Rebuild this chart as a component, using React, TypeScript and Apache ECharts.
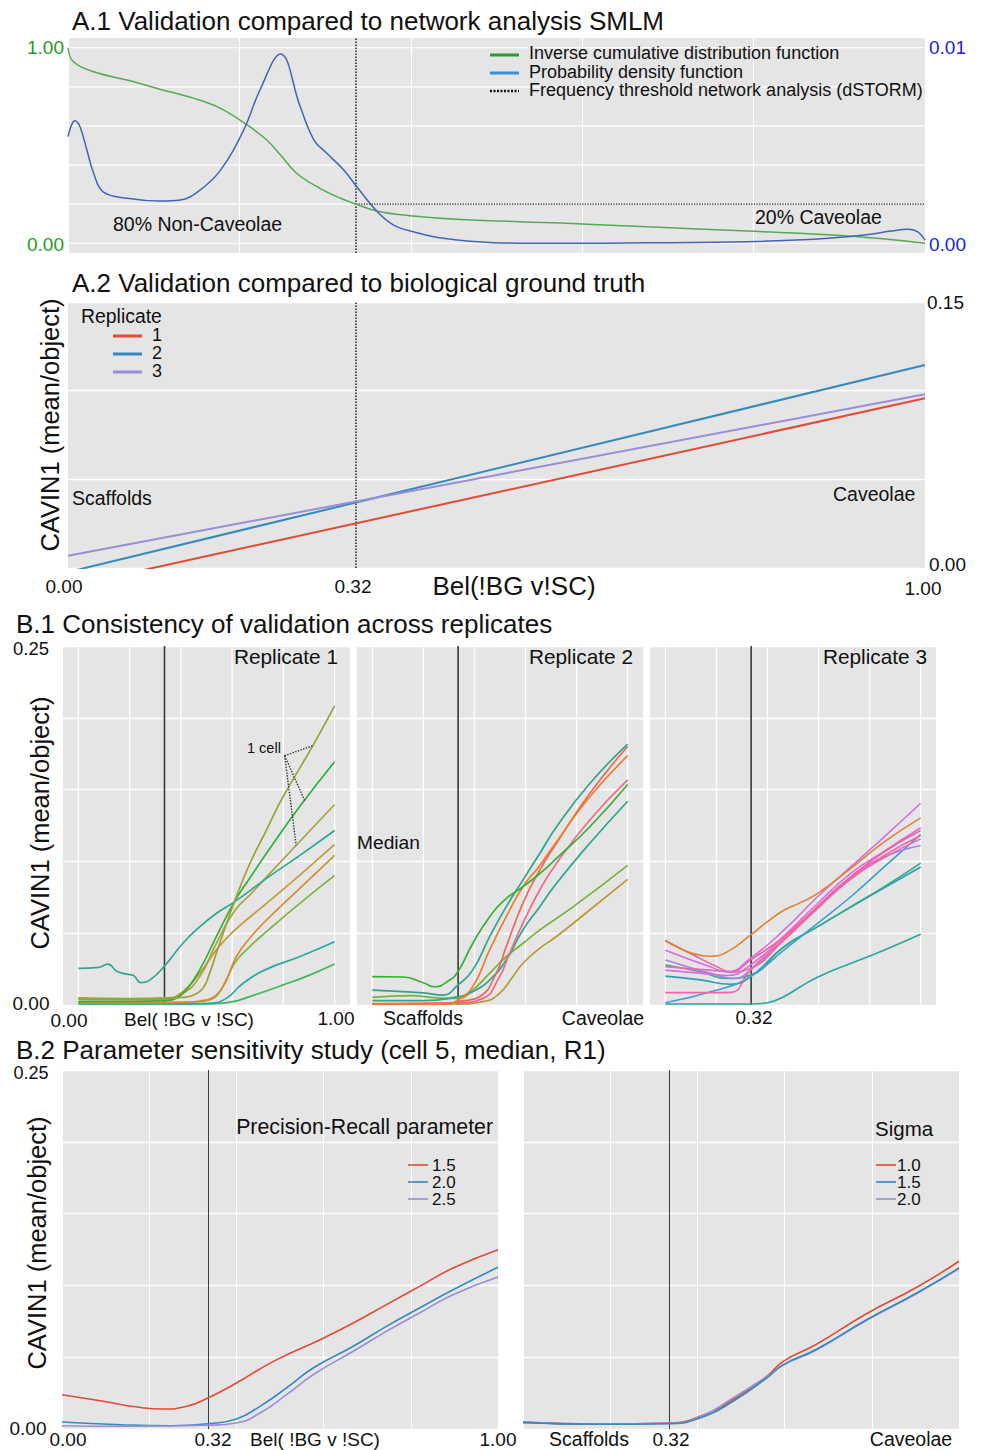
import React, { useEffect, useRef } from "react";
import * as echarts from "echarts";

const FONT = '"Liberation Sans", Arial, Helvetica, sans-serif';

// ---------- shared ----------
const THRESHOLD_POS = 0.336;
const THRESHOLD_LABEL = "0.32";

// ---------- A.1 ----------
const icdfX = [0, 0.006, 0.03, 0.069, 0.108, 0.147, 0.178, 0.209, 0.232, 0.248, 0.267, 0.294, 0.318, 0.336, 0.36, 0.399, 0.458, 0.575, 0.676, 0.793, 0.91, 1.0];
const icdfY = [1.0, 0.93, 0.877, 0.835, 0.787, 0.741, 0.69, 0.605, 0.528, 0.451, 0.357, 0.281, 0.23, 0.2, 0.165, 0.141, 0.122, 0.103, 0.084, 0.062, 0.037, 0.0];
const pdfX = [0, 0.008, 0.014, 0.022, 0.03, 0.041, 0.069, 0.107, 0.131, 0.154, 0.178, 0.205, 0.224, 0.248, 0.271, 0.287, 0.302, 0.322, 0.337, 0.361, 0.38, 0.403, 0.438, 0.497, 0.575, 0.676, 0.793, 0.87, 0.929, 0.96, 0.98, 0.991, 1.0];
const pdfY = [0.00545, 0.00627, 0.00596, 0.00477, 0.00357, 0.00263, 0.0023, 0.00216, 0.00221, 0.00272, 0.00374, 0.00579, 0.00784, 0.00968, 0.00698, 0.00528, 0.0046, 0.00374, 0.00289, 0.00161, 0.00093, 0.00059, 0.00025, 0.00003, 0, 0.00002, 0.00008, 0.0002, 0.00042, 0.00062, 0.00071, 0.00059, 0.00016];
const freqThreshold = 0.2;
const a1GridY = [0, 0.2, 0.4, 0.6, 0.8, 1];
const a1LeftTicks = ["1.00", "0.00"];
const a1RightTicks = ["0.01", "0.00"];
const a1Legend = ["Inverse cumulative distribution function", "Probability density function", "Frequency threshold network analysis (dSTORM)"];

// ---------- A.2 ----------
const a2X = [0, 1];
const a2Rep1 = [-0.0105, 0.0957];
const a2Rep2 = [-0.0023, 0.1145];
const a2Rep3 = [0.0069, 0.098];
const a2Legend = ["1", "2", "3"];
const a2RightTicks = ["0.15", "0.00"];
const a2XTicks = ["0.00", THRESHOLD_LABEL, "1.00"];

// ---------- B.1 ----------
const b1GridX = [0, 0.2, 0.4, 0.6, 0.8, 1];
const rep1a = [[0, 0.0045], [0.2, 0.004], [0.336, 0.0045], [0.42, 0.0055], [0.45, 0.007], [0.486, 0.0116], [0.512, 0.022], [0.538, 0.0359], [0.575, 0.055], [0.609, 0.072], [0.668, 0.098], [0.733, 0.1215], [0.798, 0.1447], [0.915, 0.1806], [1, 0.2083]];
const rep1b = [[0, 0.0025], [0.2, 0.0025], [0.336, 0.003], [0.381, 0.0046], [0.42, 0.0104], [0.473, 0.0243], [0.538, 0.0475], [0.609, 0.072], [0.668, 0.0881], [0.733, 0.1053], [0.863, 0.138], [1, 0.1694]];
const rep1c = [[0, 0.005], [0.2, 0.0045], [0.336, 0.005], [0.407, 0.0081], [0.473, 0.0197], [0.538, 0.0428], [0.609, 0.0655], [0.668, 0.0764], [0.733, 0.0889], [0.863, 0.1137], [1, 0.1396]];
const rep1d = [[0, 0.0255], [0.08, 0.0262], [0.115, 0.0285], [0.15, 0.0235], [0.19, 0.0215], [0.215, 0.0205], [0.245, 0.0155], [0.28, 0.0175], [0.336, 0.0271], [0.407, 0.0428], [0.473, 0.0544], [0.538, 0.0637], [0.609, 0.0718], [0.733, 0.088], [0.863, 0.104], [1, 0.1215]];
const rep1e = [[0, 0.004], [0.2, 0.0038], [0.336, 0.004], [0.407, 0.0093], [0.473, 0.022], [0.538, 0.0382], [0.603, 0.0509], [0.733, 0.0706], [0.863, 0.0903], [1, 0.1118]];
const rep1f = [[0, 0.002], [0.3, 0.0018], [0.42, 0.002], [0.473, 0.0028], [0.538, 0.0069], [0.577, 0.0174], [0.616, 0.0336], [0.668, 0.0463], [0.733, 0.059], [0.863, 0.081], [1, 0.1042]];
const rep1g = [[0, 0.0015], [0.3, 0.0015], [0.45, 0.002], [0.512, 0.0035], [0.564, 0.0127], [0.609, 0.0289], [0.668, 0.0405], [0.733, 0.0509], [0.863, 0.0706], [1, 0.0903]];
const rep1h = [[0, 0.001], [0.4, 0.0008], [0.512, 0.0012], [0.577, 0.0046], [0.642, 0.015], [0.733, 0.0248], [0.863, 0.0336], [1, 0.044]];
const rep1i = [[0, 0.0008], [0.45, 0.0007], [0.538, 0.001], [0.603, 0.0023], [0.668, 0.0058], [0.798, 0.0139], [0.902, 0.0208], [1, 0.0285]];
const rep1Lines = [rep1i, rep1h, rep1g, rep1f, rep1e, rep1c, rep1d, rep1b, rep1a];
const rep1Colors = ["#3fb55c", "#29a9a2", "#7db441", "#d98c2e", "#c59b37", "#aaa23a", "#2fa893", "#2db33a", "#9ea033"];

const rep2a = [[0, 0.0104], [0.1, 0.0095], [0.2, 0.0085], [0.276, 0.0069], [0.335, 0.0139], [0.393, 0.0243], [0.459, 0.0475], [0.524, 0.0683], [0.589, 0.0868], [0.655, 0.1053], [0.72, 0.1238], [0.85, 0.1539], [1, 0.1817]];
const rep2b = [[0, 0.0008], [0.3, 0.0008], [0.335, 0.0023], [0.42, 0.0058], [0.485, 0.022], [0.524, 0.0405], [0.589, 0.0706], [0.655, 0.0938], [0.72, 0.1123], [0.85, 0.147], [1, 0.18]];
const rep2c = [[0, 0.001], [0.3, 0.0012], [0.335, 0.0035], [0.393, 0.0127], [0.459, 0.0382], [0.524, 0.0613], [0.589, 0.0822], [0.655, 0.097], [0.72, 0.1134], [0.85, 0.1447], [1, 0.1736]];
const rep2d = [[0, 0.0006], [0.335, 0.0016], [0.433, 0.0046], [0.498, 0.0197], [0.537, 0.0359], [0.589, 0.0567], [0.655, 0.0799], [0.72, 0.0984], [0.85, 0.1285], [1, 0.1567]];
const rep2e = [[0, 0.0197], [0.12, 0.0195], [0.2, 0.0155], [0.243, 0.0127], [0.3, 0.017], [0.335, 0.0231], [0.393, 0.0428], [0.459, 0.0613], [0.524, 0.0741], [0.589, 0.0822], [0.655, 0.0914], [0.72, 0.1019], [0.85, 0.1238], [1, 0.1535]];
const rep2f = [[0, 0.003], [0.2, 0.003], [0.335, 0.0058], [0.393, 0.0093], [0.459, 0.0174], [0.524, 0.0313], [0.589, 0.0521], [0.655, 0.0683], [0.72, 0.0845], [0.85, 0.1123], [1, 0.1419]];
const rep2g = [[0, 0.0053], [0.15, 0.0065], [0.25, 0.005], [0.335, 0.0046], [0.393, 0.0104], [0.459, 0.022], [0.524, 0.0336], [0.589, 0.0428], [0.655, 0.0521], [0.786, 0.0683], [1, 0.0972]];
const rep2h = [[0, 0.0007], [0.335, 0.0007], [0.433, 0.0023], [0.498, 0.0081], [0.55, 0.0197], [0.589, 0.0289], [0.655, 0.0394], [0.72, 0.0475], [0.85, 0.066], [1, 0.0875]];
const rep2Lines = [rep2h, rep2g, rep2f, rep2d, rep2b, rep2c, rep2a, rep2e];
const rep2Colors = ["#bb9838", "#7cb03c", "#2aa890", "#f06a88", "#f2655c", "#f07c2c", "#2ea58c", "#36b036"];

const rep3a = [[0, 0.0451], [0.176, 0.034], [0.242, 0.037], [0.333, 0.0486], [0.399, 0.0579], [0.464, 0.066], [0.529, 0.0713], [0.595, 0.0775], [0.725, 0.0949], [0.856, 0.1134], [1, 0.1303]];
const rep3b = [[0, 0.0447], [0.098, 0.0359], [0.203, 0.0266], [0.255, 0.0231], [0.333, 0.0313], [0.464, 0.0475], [0.595, 0.0683], [0.725, 0.0891], [0.856, 0.1065], [1, 0.1215]];
const rep3c = [[0, 0.0382], [0.176, 0.0266], [0.242, 0.0231], [0.333, 0.0324], [0.464, 0.0521], [0.595, 0.0752], [0.725, 0.096], [0.856, 0.1169], [1, 0.1405]];
const rep3d = [[0, 0.0313], [0.203, 0.0208], [0.268, 0.0185], [0.333, 0.0243], [0.464, 0.0451], [0.595, 0.0683], [0.725, 0.0891], [0.856, 0.103], [1, 0.1111]];
const rep3e = [[0, 0.0278], [0.137, 0.0231], [0.242, 0.0185], [0.333, 0.0208], [0.464, 0.0405], [0.595, 0.0544], [0.725, 0.0683], [0.856, 0.0822], [1, 0.0988]];
const rep3f = [[0, 0.0266], [0.176, 0.0243], [0.255, 0.0231], [0.333, 0.0255], [0.464, 0.0451], [0.595, 0.067], [0.725, 0.0875], [0.856, 0.1025], [1, 0.1157]];
const rep3g = [[0, 0.0243], [0.176, 0.0215], [0.242, 0.0205], [0.333, 0.0278], [0.464, 0.048], [0.595, 0.0705], [0.725, 0.0915], [0.856, 0.107], [1, 0.1234]];
const rep3h = [[0, 0.0201], [0.137, 0.0175], [0.255, 0.0145], [0.333, 0.0197], [0.464, 0.0405], [0.595, 0.0544], [0.725, 0.068], [0.856, 0.0815], [1, 0.0961]];
const rep3i = [[0, 0.0086], [0.15, 0.0086], [0.255, 0.0088], [0.333, 0.0243], [0.464, 0.046], [0.595, 0.0675], [0.725, 0.088], [0.856, 0.104], [1, 0.118]];
const rep3j = [[0, 0.0016], [0.203, 0.0104], [0.333, 0.0197], [0.464, 0.0382], [0.595, 0.0567], [0.725, 0.0752], [0.856, 0.096], [1, 0.1188]];
const rep3k = [[0, 0.0007], [0.333, 0.0007], [0.4, 0.0016], [0.464, 0.0058], [0.529, 0.0127], [0.6, 0.0197], [0.725, 0.0289], [0.856, 0.0382], [1, 0.0493]];
const rep3Lines = [rep3k, rep3h, rep3e, rep3j, rep3d, rep3i, rep3f, rep3g, rep3b, rep3c, rep3a];
const rep3Colors = ["#2aa69c", "#2a9fb5", "#35a98c", "#3a9ed8", "#9f86ee", "#f264a5", "#f067b2", "#e46ad8", "#f0609e", "#d66ce4", "#dc8431"];

const oneCellVertex = [0.805, 0.1736];
const oneCellTargets = [[0.915, 0.1806], [0.883, 0.1424], [0.85, 0.1111]];

// ---------- B.2 ----------
const pr15 = [[0, 0.0239], [0.095, 0.0193], [0.172, 0.0153], [0.233, 0.0139], [0.286, 0.0158], [0.337, 0.022], [0.4, 0.032], [0.485, 0.0471], [0.592, 0.0622], [0.668, 0.0738], [0.744, 0.0866], [0.82, 0.0993], [0.897, 0.1121], [1, 0.1249]];
const pr20 = [[0, 0.0049], [0.134, 0.003], [0.248, 0.0023], [0.337, 0.0037], [0.4, 0.007], [0.454, 0.0158], [0.515, 0.0286], [0.576, 0.0425], [0.668, 0.0576], [0.744, 0.0715], [0.82, 0.0843], [0.897, 0.097], [1, 0.1126]];
const pr25 = [[0, 0.0023], [0.134, 0.0019], [0.337, 0.0026], [0.4, 0.0042], [0.454, 0.0111], [0.515, 0.0239], [0.576, 0.0378], [0.668, 0.0541], [0.744, 0.068], [0.82, 0.0808], [0.897, 0.0935], [1, 0.1058]];
const sig10 = [[0, 0.0046], [0.177, 0.0035], [0.336, 0.0042], [0.406, 0.0088], [0.482, 0.0204], [0.559, 0.0367], [0.597, 0.0471], [0.673, 0.059], [0.788, 0.0803], [0.902, 0.0985], [1, 0.1168]];
const sig15 = [[0, 0.0046], [0.177, 0.0033], [0.336, 0.0037], [0.406, 0.0077], [0.482, 0.0193], [0.559, 0.0355], [0.597, 0.0448], [0.673, 0.0555], [0.788, 0.0761], [0.902, 0.0945], [1, 0.1121]];
const sig20 = [[0, 0.0048], [0.177, 0.0035], [0.336, 0.004], [0.406, 0.0085], [0.482, 0.0216], [0.559, 0.0365], [0.597, 0.0445], [0.673, 0.055], [0.788, 0.0757], [0.902, 0.0942], [1, 0.1117]];
const prLegend = ["1.5", "2.0", "2.5"];
const sigLegend = ["1.0", "1.5", "2.0"];
const ggColors = ["#e24a33", "#348abd", "#988ed5"];

const zip = (xs: number[], ys: number[]) => xs.map((x, i) => [x, ys[i]]);

const line = (data: any, xi: number, yi: number, color: string, width: number, extra: any = {}) => ({
  type: "line",
  xAxisIndex: xi,
  yAxisIndex: yi,
  data,
  symbol: "none",
  showSymbol: false,
  silent: true,
  clip: true,
  z: extra.z ?? 3,
  smooth: extra.smooth ?? false,
  lineStyle: { color, width, type: extra.type ?? "solid", cap: "butt" },
});

const txt = (x: number, y: number, text: string, size: number, o: any = {}) => ({
  type: "text",
  x,
  y,
  z: 20,
  silent: true,
  rotation: o.rotation ?? 0,
  style: {
    text,
    fontSize: size,
    fontFamily: FONT,
    fill: o.color ?? "#111",
    textAlign: o.align ?? "left",
    textVerticalAlign: "middle",
    align: o.align ?? "left",
    verticalAlign: "middle",
  },
});

const seg = (x1: number, y1: number, x2: number, y2: number, color: string, w: number, dash?: number[]) => ({
  type: "line",
  z: 20,
  silent: true,
  shape: { x1, y1, x2, y2 },
  style: { stroke: color, lineWidth: w, lineDash: dash },
});

const hiddenAxis = (gridIndex: number, min: number, max: number, extra: any = {}) => ({
  type: "value",
  gridIndex,
  min,
  max,
  axisLine: { show: false },
  axisTick: { show: false },
  axisLabel: { show: false },
  splitLine: { show: false },
  ...extra,
});

const whiteSplit = (w: number) => ({ show: true, lineStyle: { color: "#ffffff", width: w } });

function buildOption() {
  const grid = (left: number, top: number, width: number, height: number) => ({
    left, top, width, height, show: true, backgroundColor: "#e5e5e5", borderWidth: 0, containLabel: false,
  });

  const grids = [
    grid(68, 38, 857, 215),
    grid(68, 302, 857, 266),
    grid(63, 646, 287, 359),
    grid(357, 646, 286, 359),
    grid(650, 646, 286, 359),
    grid(62, 1070, 436, 359),
    grid(523, 1070, 436, 359),
  ];

  const xAxis = [
    hiddenAxis(0, 0, 1, { interval: 0.2, splitLine: whiteSplit(1.2) }),
    hiddenAxis(1, 0, 1),
    hiddenAxis(2, -0.06, 1.06),
    hiddenAxis(3, -0.06, 1.06),
    hiddenAxis(4, -0.06, 1.06),
    hiddenAxis(5, 0, 1, { interval: 0.2, splitLine: whiteSplit(1) }),
    hiddenAxis(6, 0, 1, { interval: 0.2, splitLine: whiteSplit(1) }),
  ];
  const yAxis = [
    hiddenAxis(0, -0.05, 1.05),
    hiddenAxis(0, -0.0005, 0.0105, { position: "right" }),
    hiddenAxis(1, 0, 0.15, { interval: 0.05, position: "right", splitLine: whiteSplit(1.3) }),
    hiddenAxis(2, 0, 0.25, { interval: 0.05, splitLine: whiteSplit(1.4) }),
    hiddenAxis(3, 0, 0.25, { interval: 0.05, splitLine: whiteSplit(1.4) }),
    hiddenAxis(4, 0, 0.25, { interval: 0.05, splitLine: whiteSplit(1.4) }),
    hiddenAxis(5, 0, 0.25, { interval: 0.05, splitLine: whiteSplit(1.4) }),
    hiddenAxis(6, 0, 0.25, { interval: 0.05, splitLine: whiteSplit(1.4) }),
  ];

  const series: any[] = [];
  // A.1 gridlines + curves
  a1GridY.forEach((v) => series.push(line([[0, v], [1, v]], 0, 0, "#ffffff", 1.2, { z: 1 })));
  series.push(line([[THRESHOLD_POS, -0.05], [THRESHOLD_POS, 1.05]], 0, 0, "#222", 1.5, { z: 2, type: [1.5, 1.5] }));
  series.push(line([[THRESHOLD_POS, freqThreshold], [1, freqThreshold]], 0, 0, "#222", 1.3, { z: 2, type: [1.3, 1.3] }));
  series.push(line(zip(icdfX, icdfY), 0, 0, "#55a955", 1.5, { smooth: 0.4 }));
  series.push(line(zip(pdfX, pdfY), 0, 1, "#4465b5", 1.5, { smooth: 0.4 }));

  // A.2
  series.push(line([[THRESHOLD_POS, 0], [THRESHOLD_POS, 0.15]], 1, 2, "#222", 1.5, { z: 2, type: [1.5, 1.5] }));
  series.push(line(zip(a2X, a2Rep1), 1, 2, ggColors[0], 2));
  series.push(line(zip(a2X, a2Rep2), 1, 2, ggColors[1], 2));
  series.push(line(zip(a2X, a2Rep3), 1, 2, ggColors[2], 2));

  // B.1
  [2, 3, 4].forEach((g) => {
    b1GridX.forEach((v) => series.push(line([[v, 0], [v, 0.25]], g, g + 1, "#ffffff", 1.3, { z: 1 })));
    series.push(line([[THRESHOLD_POS, 0], [THRESHOLD_POS, 0.25]], g, g + 1, "#3a3a3a", 1.6, { z: 2 }));
  });
  rep1Lines.forEach((d, i) => series.push(line(d, 2, 3, rep1Colors[i], 1.7, { smooth: 0.5 })));
  rep2Lines.forEach((d, i) => series.push(line(d, 3, 4, rep2Colors[i], 1.7, { smooth: 0.5 })));
  rep3Lines.forEach((d, i) => series.push(line(d, 4, 5, rep3Colors[i], 1.6, { smooth: 0.5 })));
  oneCellTargets.forEach((t) => series.push(line([oneCellVertex, t], 2, 3, "#333", 1.4, { z: 5, type: [1.4, 1.4] })));

  // B.2
  series.push(line([[THRESHOLD_POS, 0], [THRESHOLD_POS, 0.25]], 5, 6, "#3a3a3a", 1, { z: 2 }));
  series.push(line([[THRESHOLD_POS, 0], [THRESHOLD_POS, 0.25]], 6, 7, "#3a3a3a", 1, { z: 2 }));
  [pr15, pr20, pr25].forEach((d, i) => series.push(line(d, 5, 6, ggColors[i], 1.6, { smooth: 0.5 })));
  [sig10, sig20, sig15].forEach((d, i) => series.push(line(d, 6, 7, [ggColors[0], ggColors[2], ggColors[1]][i], 1.6, { smooth: 0.5 })));

  const yTitle = "CAVIN1 (mean/object)";
  const bel = "Bel( !BG v !SC)";
  const graphics: any[] = [
    // titles
    txt(72, 21, "A.1 Validation compared to network analysis SMLM", 26),
    txt(72, 283, "A.2 Validation compared to biological ground truth", 26),
    txt(16, 623.5, "B.1 Consistency of validation across replicates", 26),
    txt(16, 1050, "B.2 Parameter sensitivity study (cell 5, median, R1)", 26),

    // A.1 ticks
    txt(64, 47, a1LeftTicks[0], 19, { align: "right", color: "#1f9a1f" }),
    txt(64, 244, a1LeftTicks[1], 19, { align: "right", color: "#1f9a1f" }),
    txt(929, 47, a1RightTicks[0], 19, { color: "#2020ee" }),
    txt(929, 244, a1RightTicks[1], 19, { color: "#2020ee" }),
    txt(113, 224, "80% Non-Caveolae", 19.5),
    txt(755, 217, "20% Caveolae", 19.5),
    seg(490, 55, 519, 55, "#2a9a2a", 3),
    seg(490, 73, 519, 73, "#3d8fd3", 3),
    seg(490, 91, 519, 91, "#111", 2.5, [2, 1.5]),
    txt(529, 53, a1Legend[0], 18),
    txt(529, 71.5, a1Legend[1], 18),
    txt(529, 90, a1Legend[2], 18),

    // A.2
    txt(81, 316, "Replicate", 19.4),
    seg(113, 336, 142, 336, ggColors[0], 3),
    seg(113, 354, 142, 354, ggColors[1], 3),
    seg(113, 372, 142, 372, ggColors[2], 3),
    txt(152, 335, a2Legend[0], 18),
    txt(152, 353, a2Legend[1], 18),
    txt(152, 371, a2Legend[2], 18),
    txt(72, 498, "Scaffolds", 19.5),
    txt(833, 494, "Caveolae", 19.5),
    txt(927, 302, a2RightTicks[0], 19),
    txt(929, 564, a2RightTicks[1], 19),
    txt(64, 586, a2XTicks[0], 19, { align: "center" }),
    txt(353, 586, a2XTicks[1], 19, { align: "center" }),
    txt(923, 588, a2XTicks[2], 19, { align: "center" }),
    txt(514, 586, "Bel(!BG v!SC)", 26, { align: "center" }),
    txt(50, 425, yTitle, 25.5, { align: "center", rotation: Math.PI / 2 }),

    // B.1
    txt(31, 648.5, "0.25", 18.5, { align: "center" }),
    txt(31, 1003, "0.00", 19, { align: "center" }),
    txt(69, 1020, "0.00", 19, { align: "center" }),
    txt(189, 1019, bel, 19, { align: "center" }),
    txt(336, 1018, "1.00", 19, { align: "center" }),
    txt(423, 1018, "Scaffolds", 19.5, { align: "center" }),
    txt(603, 1018, "Caveolae", 19.5, { align: "center" }),
    txt(754, 1017, THRESHOLD_LABEL, 19, { align: "center" }),
    txt(338, 656, "Replicate 1", 20.8, { align: "right" }),
    txt(633, 656, "Replicate 2", 20.8, { align: "right" }),
    txt(927, 656, "Replicate 3", 20.8, { align: "right" }),
    txt(357, 842, "Median", 19.2),
    txt(247, 748, "1 cell", 14.5),
    txt(40, 823, yTitle, 25.5, { align: "center", rotation: Math.PI / 2 }),

    // B.2
    txt(31, 1073, "0.25", 18, { align: "center" }),
    txt(28, 1428, "0.00", 19, { align: "center" }),
    txt(68, 1439, "0.00", 19, { align: "center" }),
    txt(213, 1439, THRESHOLD_LABEL, 19, { align: "center" }),
    txt(315, 1439, bel, 19, { align: "center" }),
    txt(498, 1439, "1.00", 19, { align: "center" }),
    txt(589, 1439, "Scaffolds", 19.5, { align: "center" }),
    txt(671, 1439, THRESHOLD_LABEL, 19, { align: "center" }),
    txt(911, 1439, "Caveolae", 19.5, { align: "center" }),
    txt(493, 1127, "Precision-Recall parameter", 21.3, { align: "right" }),
    seg(408, 1165, 428, 1165, ggColors[0], 1.6),
    seg(408, 1182, 428, 1182, ggColors[1], 1.6),
    seg(408, 1199, 428, 1199, ggColors[2], 1.6),
    txt(432, 1165, prLegend[0], 17),
    txt(432, 1182, prLegend[1], 17),
    txt(432, 1199, prLegend[2], 17),
    txt(875, 1128, "Sigma", 20.5),
    seg(876, 1165, 896, 1165, ggColors[0], 1.6),
    seg(876, 1182, 896, 1182, ggColors[1], 1.6),
    seg(876, 1199, 896, 1199, ggColors[2], 1.6),
    txt(897, 1165, sigLegend[0], 17),
    txt(897, 1182, sigLegend[1], 17),
    txt(897, 1199, sigLegend[2], 17),
    txt(37, 1243, yTitle, 25.5, { align: "center", rotation: Math.PI / 2 }),
  ];

  return {
    animation: false,
    backgroundColor: "#ffffff",
    textStyle: { fontFamily: FONT },
    grid: grids,
    xAxis,
    yAxis,
    series,
    graphic: { elements: graphics },
  };
}

export default function App() {
  const ref = useRef<HTMLDivElement>(null);
  useEffect(() => {
    document.body.style.margin = "0";
    const chart = echarts.init(ref.current as HTMLDivElement, undefined, { renderer: "svg", width: 981, height: 1450 });
    chart.setOption(buildOption() as any);
    return () => chart.dispose();
  }, []);
  return <div ref={ref} style={{ width: 981, height: 1450 }} />;
}
